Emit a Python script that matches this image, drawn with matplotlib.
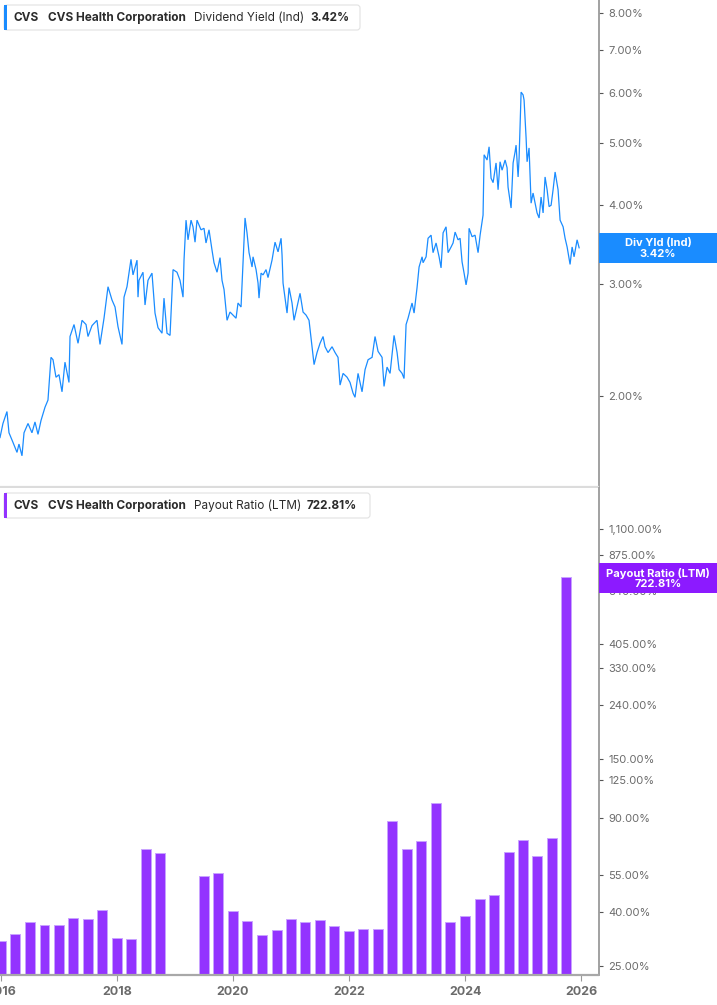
import numpy as np
import pandas as pd
import matplotlib
matplotlib.use('Agg')
import matplotlib.pyplot as plt
from matplotlib.patches import Rectangle, FancyBboxPatch
from matplotlib.ticker import FixedLocator, NullLocator, FuncFormatter

plt.rcParams['font.family'] = ['Inter', 'DejaVu Sans']

# ---- data: dividend yield (ind), decimal year / percent
yield_years = [
    2015.983, 2016.034, 2016.103, 2016.138, 2016.207, 2016.276, 2016.310, 2016.362, 2016.397, 2016.466,
    2016.534, 2016.586, 2016.638, 2016.690, 2016.759, 2016.810, 2016.862, 2016.897, 2016.948, 2017.000,
    2017.052, 2017.103, 2017.172, 2017.190, 2017.259, 2017.328, 2017.397, 2017.466, 2017.500, 2017.569,
    2017.655, 2017.707, 2017.776, 2017.845, 2017.914, 2017.966, 2018.017, 2018.086, 2018.121, 2018.172,
    2018.241, 2018.276, 2018.345, 2018.362, 2018.379, 2018.448, 2018.483, 2018.534, 2018.603, 2018.655,
    2018.707, 2018.776, 2018.810, 2018.862, 2018.914, 2018.966, 2019.034, 2019.086, 2019.138, 2019.155,
    2019.190, 2019.224, 2019.276, 2019.310, 2019.345, 2019.379, 2019.448, 2019.500, 2019.534, 2019.586,
    2019.638, 2019.672, 2019.724, 2019.776, 2019.810, 2019.845, 2019.897, 2019.948, 2020.000, 2020.052,
    2020.086, 2020.138, 2020.172, 2020.207, 2020.241, 2020.276, 2020.328, 2020.345, 2020.397, 2020.431,
    2020.448, 2020.483, 2020.517, 2020.569, 2020.603, 2020.672, 2020.724, 2020.776, 2020.828, 2020.845,
    2020.862, 2020.897, 2020.931, 2020.966, 2021.017, 2021.052, 2021.103, 2021.155, 2021.207, 2021.259,
    2021.310, 2021.362, 2021.397, 2021.448, 2021.500, 2021.552, 2021.586, 2021.638, 2021.707, 2021.759,
    2021.810, 2021.845, 2021.897, 2021.966, 2022.017, 2022.069, 2022.103, 2022.155, 2022.224, 2022.276,
    2022.328, 2022.397, 2022.448, 2022.500, 2022.569, 2022.603, 2022.655, 2022.707, 2022.776, 2022.828,
    2022.862, 2022.914, 2022.948, 2022.983, 2023.017, 2023.086, 2023.121, 2023.172, 2023.207, 2023.259,
    2023.276, 2023.328, 2023.362, 2023.414, 2023.448, 2023.500, 2023.552, 2023.586, 2023.621, 2023.672,
    2023.707, 2023.759, 2023.793, 2023.828, 2023.879, 2023.914, 2023.948, 2023.983, 2024.017, 2024.052,
    2024.069, 2024.121, 2024.172, 2024.224, 2024.259, 2024.310, 2024.328, 2024.379, 2024.414, 2024.448,
    2024.483, 2024.534, 2024.569, 2024.603, 2024.638, 2024.690, 2024.724, 2024.741, 2024.793, 2024.828,
    2024.862, 2024.879, 2024.914, 2024.931, 2024.966, 2025.000, 2025.017, 2025.052, 2025.069, 2025.103,
    2025.138, 2025.172, 2025.207, 2025.241, 2025.276, 2025.310, 2025.345, 2025.379, 2025.414, 2025.448,
    2025.483, 2025.517, 2025.552, 2025.603, 2025.638, 2025.690, 2025.724, 2025.759, 2025.810, 2025.845,
    2025.879, 2025.931, 2025.966,
]
yield_pct = [
    1.72, 1.81, 1.89, 1.75, 1.69, 1.63, 1.68, 1.61, 1.75, 1.81,
    1.75, 1.82, 1.74, 1.83, 1.92, 1.97, 2.30, 2.28, 2.14, 2.16,
    2.03, 2.26, 2.10, 2.48, 2.59, 2.42, 2.63, 2.59, 2.48, 2.58,
    2.63, 2.41, 2.65, 2.97, 2.83, 2.76, 2.57, 2.41, 2.86, 2.97,
    3.28, 3.10, 3.27, 2.86, 3.04, 3.13, 2.78, 3.04, 3.12, 2.70,
    2.56, 2.51, 2.85, 2.51, 2.49, 3.16, 3.13, 3.04, 2.86, 3.27,
    3.78, 3.52, 3.78, 3.69, 3.49, 3.78, 3.65, 3.67, 3.48, 3.65,
    3.39, 3.24, 3.13, 3.30, 3.04, 2.94, 2.63, 2.71, 2.68, 2.65,
    2.80, 2.76, 3.24, 3.81, 3.61, 3.36, 3.19, 3.31, 3.16, 3.01,
    2.85, 3.12, 3.10, 3.16, 3.07, 3.27, 3.49, 3.37, 3.54, 3.33,
    3.01, 2.85, 2.70, 2.96, 2.80, 2.63, 2.76, 2.90, 2.71, 2.68,
    2.63, 2.39, 2.24, 2.34, 2.42, 2.48, 2.39, 2.34, 2.39, 2.34,
    2.30, 2.08, 2.17, 2.14, 2.10, 2.02, 1.99, 2.17, 2.03, 2.20,
    2.28, 2.30, 2.48, 2.35, 2.30, 2.07, 2.22, 2.17, 2.49, 2.34,
    2.20, 2.17, 2.13, 2.59, 2.65, 2.80, 2.70, 2.96, 3.19, 3.31,
    3.24, 3.31, 3.54, 3.58, 3.36, 3.48, 3.31, 3.18, 3.61, 3.69,
    3.36, 3.43, 3.48, 3.62, 3.52, 3.54, 3.25, 3.12, 2.99, 3.12,
    3.67, 3.56, 3.58, 3.36, 3.58, 3.85, 4.79, 4.70, 4.93, 4.40,
    4.33, 4.65, 4.22, 4.67, 4.53, 4.70, 4.57, 4.26, 3.95, 4.65,
    4.84, 4.96, 4.42, 4.73, 6.01, 5.95, 5.84, 5.09, 4.67, 4.91,
    4.02, 4.17, 4.02, 3.88, 3.81, 4.11, 3.88, 4.42, 4.22, 3.97,
    3.99, 4.22, 4.50, 4.22, 3.78, 3.69, 3.54, 3.43, 3.22, 3.43,
    3.31, 3.52, 3.42,
]

# ---- data: payout ratio (LTM), quarterly, percent
quarter_ends = pd.date_range(end='2025-09-30', periods=40, freq='QE')
payout_pct = [
    30.0, 31.9, 35.4, 34.7, 34.5, 36.8, 36.6, 39.6, 30.8, 30.5,
    67.7, 65.4, np.nan, np.nan, 53.6, 55.0, 39.2, 36.0, 31.6, 33.0,
    36.6, 35.4, 36.3, 34.4, 32.7, 33.5, 33.5, 86.5, 67.5, 72.5,
    101.6, 35.5, 37.5, 43.5, 45.3, 66.1, 73.1, 63.9, 74.4, 722.81,
]
quarter_x = quarter_ends.year + quarter_ends.dayofyear / 365.25

yield_ticks = [2, 3, 4, 5, 6, 7, 8]
payout_ticks = [25, 40, 55, 90, 125, 150, 240, 330, 405, 640, 875, 1100]
year_ticks = [2016, 2018, 2020, 2022, 2024, 2026]

BLUE = '#1a8cff'
PURPLE = '#9333ff'
W, H = 717, 1005

fig = plt.figure(figsize=(W / 100, H / 100), dpi=100)
fig.patch.set_facecolor('white')

ax_w = 598.5 / W
ax1 = fig.add_axes([0, 1 - 487 / H, ax_w, 487 / H])
ax2 = fig.add_axes([0, 1 - 975 / H, ax_w, (975 - 488) / H])

for ax in (ax1, ax2):
    ax.set_xlim(2015.983, 2026.30)
    ax.set_yscale('log')
    ax.yaxis.tick_right()
    ax.yaxis.set_minor_locator(NullLocator())
    for s in ('top', 'left'):
        ax.spines[s].set_visible(False)
    ax.spines['right'].set_color('#9a9a9a')
    ax.spines['right'].set_linewidth(1.3)
    ax.tick_params(axis='y', which='major', direction='out', length=3, width=0.8,
                   color='#555555', labelcolor='#6b6b6b', labelsize=8, pad=4)
    ax.set_facecolor('white')

# --- top: dividend yield line
ax1.plot(yield_years, yield_pct, color=BLUE, lw=0.9, solid_joinstyle='miter')
ax1.set_ylim(1.438, 8.39)
ax1.yaxis.set_major_locator(FixedLocator(yield_ticks))
ax1.yaxis.set_major_formatter(FuncFormatter(lambda v, p: f'{v:.2f}%'))
ax1.spines['bottom'].set_color('#dcdcdc')
ax1.spines['bottom'].set_linewidth(1.6)
ax1.tick_params(axis='x', bottom=False, labelbottom=False)

# --- bottom: payout ratio bars
ax2.bar(quarter_x, payout_pct, width=0.172, bottom=1, color=PURPLE,
        edgecolor='#c9a3ff', linewidth=0.7)
ax2.set_ylim(23.1, 1566)
ax2.yaxis.set_major_locator(FixedLocator(payout_ticks))
ax2.yaxis.set_major_formatter(FuncFormatter(lambda v, p: f'{v:,.2f}%'))
ax2.spines['bottom'].set_color('#a8a8a8')
ax2.spines['bottom'].set_linewidth(1.6)
ax2.set_xticks(year_ticks)
ax2.set_xticklabels([str(y) for y in year_ticks])
ax2.tick_params(axis='x', direction='out', length=4, width=0.8, color='#999999',
                labelcolor='#6b6b6b', labelsize=9, pad=4)
for lbl in ax2.get_xticklabels():
    lbl.set_fontweight('bold')


def px(x, y):
    # pixel (top-left origin) -> inches for dpi_scale_trans
    return x / 100, (H - y) / 100


tr = fig.dpi_scale_trans


def legend_box(y0, y1, x1, color, metric, value, value_x):
    x0, yb = px(4, y1)
    box = FancyBboxPatch((x0, yb), (x1 - 4) / 100, (y1 - y0) / 100,
                         boxstyle='round,pad=0,rounding_size=0.03',
                         transform=tr, facecolor='white', edgecolor='#e2e2e2',
                         lw=0.8, zorder=10)
    fig.add_artist(box)
    fig.add_artist(Rectangle((x0, yb), 0.03, (y1 - y0) / 100, transform=tr,
                             facecolor=color, edgecolor='none', zorder=11))
    yc = (y0 + y1) / 2
    kw = dict(transform=tr, va='center', ha='left', fontsize=8.5, color='#2b2b2b', zorder=12)
    fig.text(*px(13, yc), 'CVS', fontweight='bold', **kw)
    fig.text(*px(48, yc), 'CVS Health Corporation', fontweight='bold', **kw)
    fig.text(*px(194, yc), metric, **kw)
    fig.text(*px(value_x, yc), value, fontweight='bold', **kw)


legend_box(5, 30, 360, BLUE, 'Dividend Yield (Ind)', '3.42%', 310)
legend_box(493, 518, 370, PURPLE, 'Payout Ratio (LTM)', '722.81%', 307)


def value_tag(y0, y1, color, line1, line2):
    x0, yb = px(598.5, y1)
    fig.add_artist(Rectangle((x0, yb), (W - 598.5) / 100, (y1 - y0) / 100,
                             transform=tr, facecolor=color, edgecolor='none', zorder=20))
    kw = dict(transform=tr, va='center', ha='center', fontsize=8, color='white',
              fontweight='bold', zorder=21)
    fig.text(*px(658, y0 + 10), line1, **kw)
    fig.text(*px(658, y0 + 20.5), line2, **kw)


value_tag(233, 263, BLUE, 'Div Yld (Ind)', '3.42%')
value_tag(563, 593, '#8c1aff', 'Payout Ratio (LTM)', '722.81%')

fig.savefig('out.png', dpi=100, facecolor='white')
